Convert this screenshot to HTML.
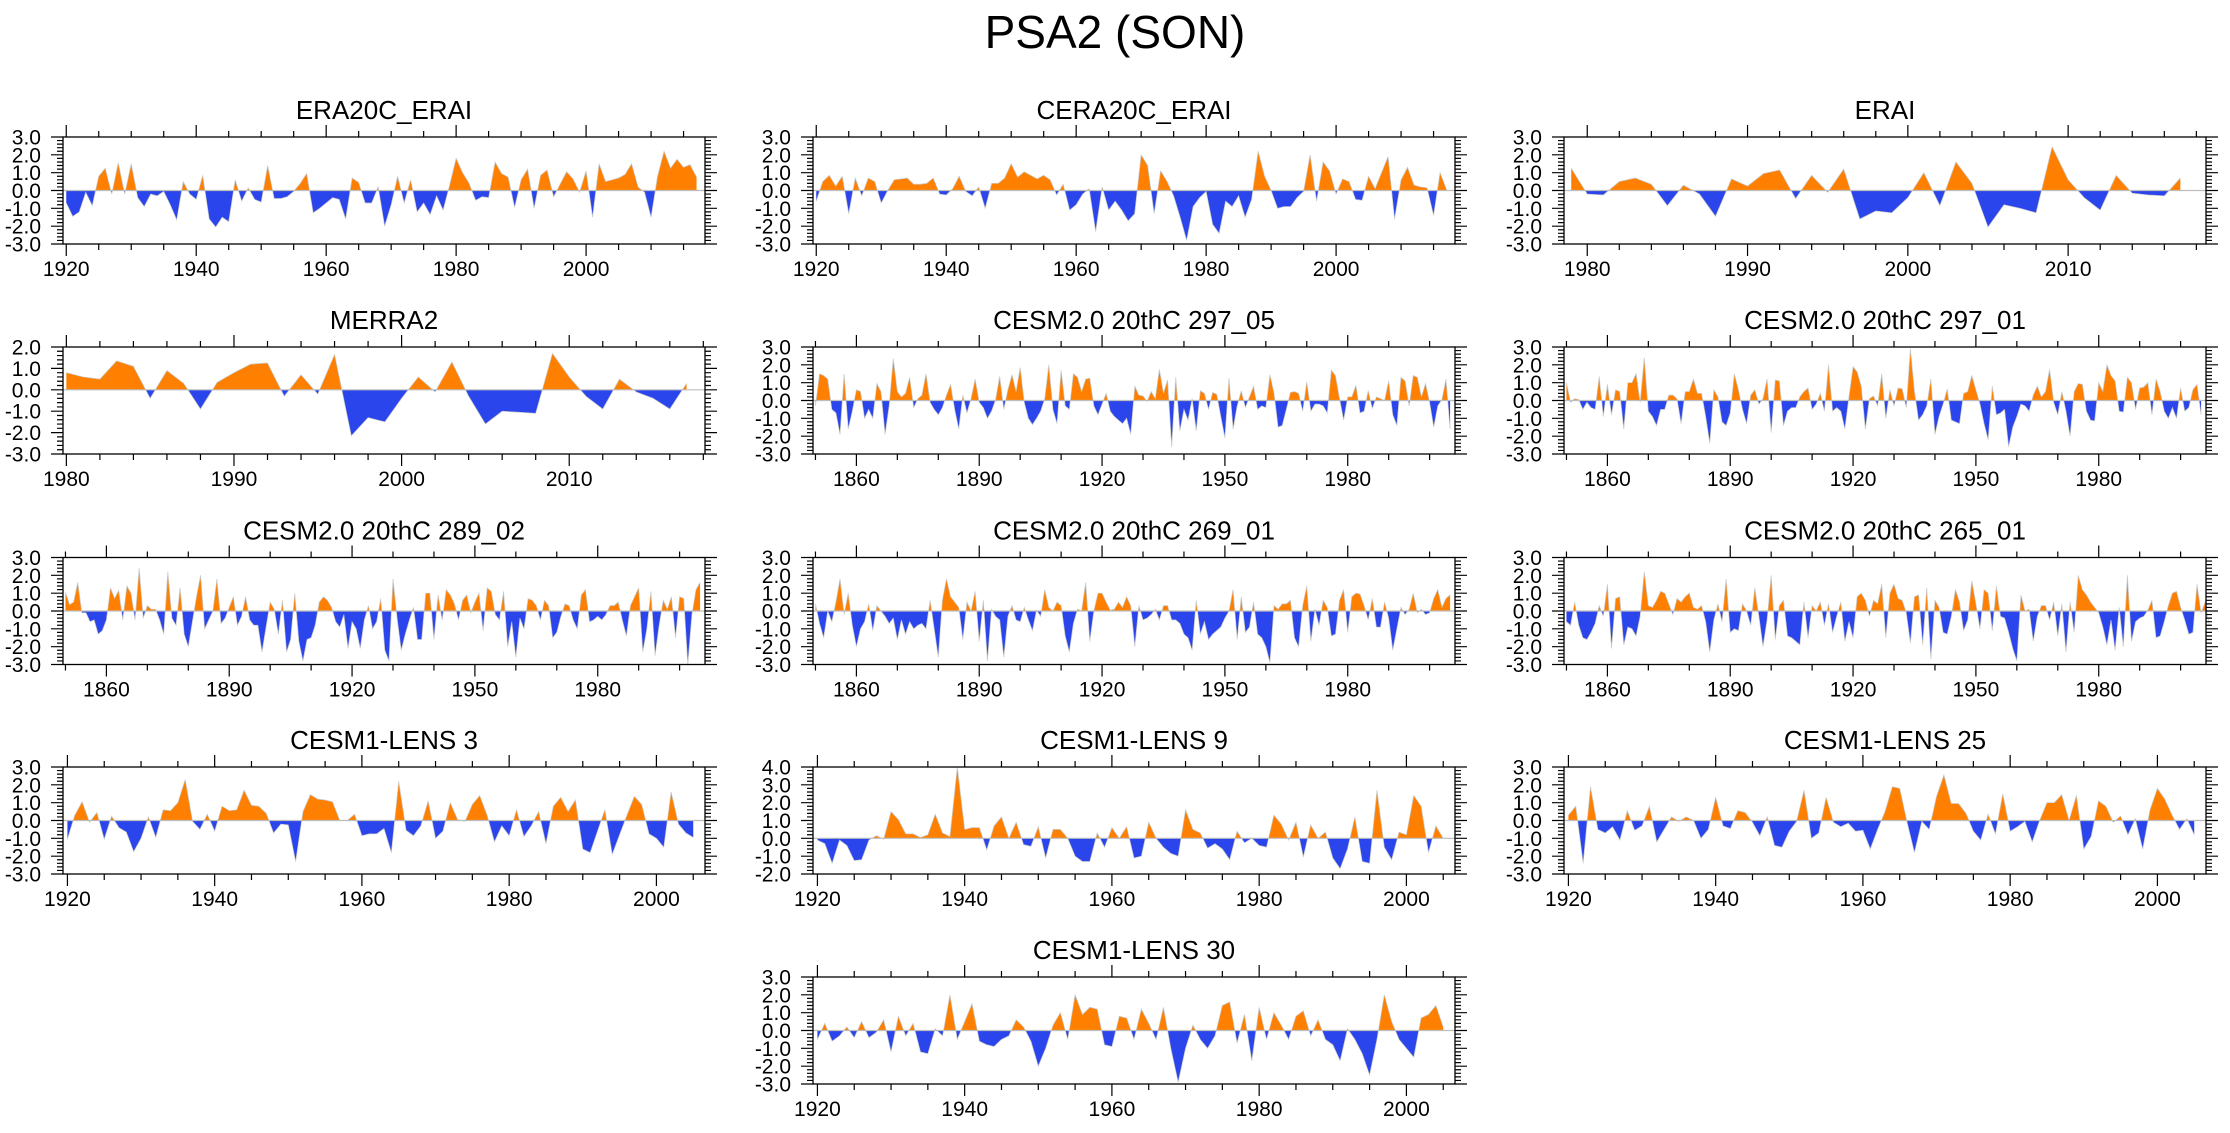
<!DOCTYPE html>
<html>
<head>
<meta charset="utf-8">
<style>
html,body{margin:0;padding:0;background:#fff;}
svg{display:block;font-family:"Liberation Sans",Arial,sans-serif;}
</style>
</head>
<body>
<svg id="fig" width="2230" height="1133" viewBox="0 0 2230 1133" xmlns="http://www.w3.org/2000/svg">
<rect x="0" y="0" width="2230" height="1133" fill="#fff"/>
<text x="1115" y="48" font-size="46" text-anchor="middle" fill="#000">PSA2 (SON)</text>
</svg>
<script>
// ---- data ----
const era20cStart = 1920;
const era20cValues = [-0.7,-1.45,-1.2,-0.1,-0.85,0.8,1.25,-0.2,1.55,-0.2,1.5,-0.4,-0.9,-0.2,-0.3,-0.05,-0.8,-1.65,0.5,-0.2,-0.5,0.85,-1.6,-2.05,-1.5,-1.75,0.6,-0.6,0.15,-0.5,-0.65,1.4,-0.45,-0.45,-0.35,-0.05,0.4,0.95,-1.25,-1.0,-0.7,-0.4,-0.5,-1.6,0.7,0.45,-0.7,-0.7,0.2,-2.0,-0.8,0.8,-0.7,0.6,-1.2,-0.7,-1.35,-0.3,-1.1,0.3,1.8,1.0,0.4,-0.55,-0.35,-0.4,1.6,0.95,0.75,-0.95,0.6,1.2,-1.0,0.85,1.15,-0.35,0.35,1.05,0.65,-0.1,1.1,-1.5,1.5,0.5,0.6,0.7,0.9,1.5,0.2,-0.1,-1.5,0.8,2.2,1.25,1.75,1.3,1.45,0.75];
const cera20cStart = 1920;
const cera20cValues = [-0.6,0.5,0.85,0.25,0.8,-1.3,0.7,-0.3,0.7,0.5,-0.7,0.0,0.6,0.65,0.7,0.35,0.35,0.4,0.7,-0.2,-0.25,0.1,0.8,-0.05,-0.3,0.2,-1.0,0.4,0.4,0.7,1.5,0.75,1.05,0.85,0.65,0.85,0.6,-0.25,0.35,-1.1,-0.8,-0.2,0.1,-2.3,0.2,-1.1,-0.6,-1.1,-1.7,-1.3,2.0,1.4,-1.3,1.1,0.5,-0.3,-1.5,-2.8,-0.9,-0.4,-0.05,-1.9,-2.4,-0.6,-0.9,-0.3,-1.5,-0.5,2.2,0.8,0.0,-1.0,-0.9,-0.9,-0.4,-0.05,2.0,-0.6,1.6,1.1,-0.2,0.65,0.5,-0.5,-0.55,0.8,0.1,1.0,1.9,-1.6,0.6,1.3,0.3,0.2,0.15,-1.4,1.0,0.05];
const eraiStart = 1979;
const eraiValues = [1.25,-0.2,-0.25,0.5,0.7,0.35,-0.85,0.3,-0.2,-1.45,0.65,0.25,0.95,1.15,-0.45,0.85,-0.1,1.2,-1.6,-1.15,-1.25,-0.4,1.0,-0.85,1.6,0.4,-2.05,-0.8,-1.0,-1.25,2.45,0.6,-0.4,-1.1,0.85,-0.15,-0.25,-0.3,0.7];
const merra2Start = 1980;
const merra2Values = [0.8,0.6,0.5,1.35,1.1,-0.4,0.9,0.3,-0.9,0.35,0.8,1.2,1.25,-0.3,0.7,-0.2,1.65,-2.15,-1.3,-1.5,-0.4,0.6,-0.1,1.3,-0.3,-1.6,-1.0,-1.05,-1.1,1.7,0.6,-0.3,-0.9,0.5,-0.1,-0.4,-0.9,0.3];
const cesm2Start = 1850;
const cesm297_05Values = [-0.3,1.5,1.4,1.2,-0.5,-0.7,-1.9,1.5,-1.6,-0.6,0.6,0.5,-1.0,-0.5,-1.0,0.95,0.5,-1.9,-0.3,2.35,0.5,0.2,0.4,1.3,-0.4,0.1,0.3,1.5,-0.1,-0.5,-0.8,-0.4,0.3,0.9,-0.5,-1.6,0.3,-0.7,0.1,1.2,-0.1,-0.4,-1.0,-0.6,0.05,1.35,-0.5,0.6,1.45,0.5,1.85,-0.1,-1.0,-1.35,-1.0,-0.6,0.1,2.0,-0.5,-1.3,1.7,-0.3,-0.5,1.5,1.3,0.5,1.2,1.25,-0.3,-0.8,-0.2,0.4,-0.6,-0.9,-1.1,-1.3,-1.0,-1.9,0.8,0.3,0.25,-0.05,0.5,0.1,1.75,0.4,1.15,-2.6,1.3,-1.7,-0.5,-1.1,0.1,-1.7,0.55,0.4,-0.5,0.45,0.35,-0.9,-2.1,1.25,-1.6,-0.3,0.55,-0.4,0.2,0.8,-0.5,-0.3,-0.4,1.45,0.4,-1.5,-1.4,-0.5,0.45,0.5,0.4,-0.6,1.05,-0.6,-0.2,-0.2,-0.3,-0.7,1.7,1.4,0.1,-1.1,0.2,0.2,0.85,-0.7,-0.6,0.55,-0.45,0.2,0.1,0.0,1.1,-0.8,-1.4,1.3,1.1,-0.3,1.4,1.3,0.2,0.95,-0.1,-1.5,-0.3,0.05,1.2,-1.6];
const cesm297_01Values = [1.0,-0.1,0.1,0.05,-0.5,-0.1,-0.4,-0.5,1.35,-0.9,0.9,-0.8,0.6,0.5,-1.6,1.0,1.0,1.5,-0.1,2.4,-0.6,-0.9,-1.4,-0.5,-0.5,0.3,0.3,0.1,-1.3,0.5,0.5,1.2,0.4,0.4,-0.9,-2.4,0.6,0.2,-1.2,-1.4,-0.7,1.5,0.6,-0.5,-1.3,0.3,0.6,-0.2,0.1,1.2,-1.8,1.15,1.1,-1.4,-0.6,-0.4,-0.4,0.2,0.5,0.7,-0.5,-0.2,0.4,-0.6,2.0,-0.6,-0.4,-0.6,-1.6,0.2,1.9,1.6,0.8,-1.6,0.1,0.25,-0.3,1.5,-1.0,0.6,-0.3,0.7,0.65,-0.4,2.9,0.5,-1.1,-0.8,-0.3,1.2,-1.9,-0.9,-0.2,0.65,-1.1,-1.2,-1.3,0.4,0.5,1.4,0.6,-0.2,-1.3,-2.2,0.8,-0.8,-0.7,-0.5,-2.6,-1.5,-0.9,-0.2,-0.3,-0.6,0.3,0.8,0.2,0.5,1.75,-0.1,-0.8,0.5,-0.6,-2.0,0.5,0.95,0.9,-0.6,-1.1,-1.15,1.0,0.5,2.0,1.4,1.1,-0.6,-0.65,1.3,1.0,-0.5,0.7,0.75,1.0,-0.8,1.2,0.5,-0.6,-1.0,-0.4,-1.0,0.7,-0.6,-0.4,0.6,0.9,-0.8];
const cesm289_02Values = [1.05,0.35,0.5,1.6,-0.1,-0.1,-0.6,-0.5,-1.3,-1.1,-0.5,1.3,0.7,1.15,-0.5,1.4,1.0,-0.5,2.4,-0.4,0.3,0.1,0.1,-0.5,-1.3,2.2,-0.4,-0.8,1.3,-1.3,-2.0,-0.6,0.8,2.0,-1.0,-0.5,0.0,1.8,-0.7,-0.4,0.2,0.8,-0.8,-0.3,0.8,-0.5,-0.8,-0.8,-2.3,-0.9,0.5,0.1,-1.3,0.6,-2.3,-1.6,1.0,-1.7,-2.8,-1.6,-1.5,-0.8,0.5,0.8,0.6,0.2,-0.6,-0.9,-0.2,-2.1,-0.6,-1.0,-2.1,-0.5,0.3,-1.0,-0.6,0.7,-2.2,-2.8,1.8,-0.4,-2.2,-1.3,-0.5,0.2,-1.6,-1.6,1.0,1.0,-1.6,0.9,-0.5,1.2,0.9,0.4,-0.5,0.6,0.9,-0.1,0.5,1.0,-1.1,1.3,1.1,-0.2,-0.5,1.1,-2.0,-0.6,-2.6,-0.4,-1.0,0.7,0.6,0.3,-0.5,0.6,0.3,-1.5,-1.2,-0.3,0.4,0.3,-0.5,-1.0,0.9,1.2,-0.6,-0.5,-0.3,-0.5,-0.2,0.3,0.3,0.5,-0.5,-1.4,0.3,0.8,1.3,-2.3,-1.0,1.1,-2.5,-0.8,0.6,0.1,0.8,-1.5,0.8,0.7,-3.0,-0.2,1.2,1.6];
const cesm269_01Values = [0.4,-0.7,-1.5,0.0,-0.6,0.5,1.8,-0.2,1.0,-0.8,-2.0,-1.0,-0.6,0.4,-1.1,0.3,0.0,-0.3,-0.7,-0.4,-1.6,-0.5,-1.3,-0.6,-1.0,-0.8,-0.7,-1.0,0.6,-1.0,-2.6,0.6,1.8,0.8,0.5,0.2,-1.6,0.5,0.0,1.1,-1.7,0.6,-2.8,0.1,-0.3,-0.5,-2.6,-0.3,0.3,-0.5,-0.6,0.2,-0.5,-1.1,0.05,-0.3,1.2,0.2,0.0,0.5,0.3,-1.4,-2.3,-0.7,0.1,0.0,1.6,-1.7,0.0,1.0,1.0,0.5,0.05,0.1,0.5,0.2,0.8,0.3,-2.0,0.3,-0.5,-0.4,-0.2,0.1,-0.5,0.3,0.3,-0.5,-0.5,-0.7,-1.3,-1.5,-2.2,0.6,-1.3,-0.6,-1.6,-1.3,-1.1,-0.9,-0.4,0.0,1.2,-1.6,0.8,-1.2,-0.9,0.5,-1.3,-1.5,-2.0,-2.9,0.3,0.1,0.4,0.4,0.6,-1.5,-2.0,0.3,1.4,-1.7,0.1,-0.8,0.6,0.2,-1.4,-1.3,0.6,1.2,-1.2,0.8,1.0,0.95,0.3,-0.5,0.7,-0.9,-0.9,0.5,-0.4,-2.2,-1.0,0.2,-0.2,0.1,1.0,-0.1,0.1,-0.2,-0.1,0.7,1.2,0.2,0.7,0.9];
const cesm265_01Values = [-0.6,-0.8,0.5,-0.8,-1.5,-1.6,-1.2,-0.7,0.3,-0.3,1.5,-2.1,0.7,0.8,-1.9,-0.9,-1.0,-1.4,-0.3,2.2,0.3,0.2,0.6,1.1,1.0,0.4,-0.2,0.7,0.5,0.8,1.0,0.2,0.1,0.3,-0.6,-2.3,-0.5,0.4,-0.6,1.8,-1.2,-1.0,-1.1,0.4,0.0,-0.8,1.3,-0.3,-2.0,-0.5,2.0,-1.6,0.3,0.6,-1.4,-1.5,-1.7,-1.9,0.5,-1.5,0.3,0.0,0.5,-0.8,0.4,-1.2,-0.3,0.5,-1.7,-0.6,-1.5,0.8,1.0,0.6,-0.3,0.6,0.4,1.5,-1.5,1.0,1.5,0.7,0.6,-0.1,-1.8,0.8,0.9,-1.9,1.3,-2.7,0.6,0.2,-1.2,-1.3,-0.3,1.2,0.5,-1.1,-0.5,1.7,0.4,-1.0,1.2,1.0,-1.1,1.4,-0.3,-0.4,-1.2,-2.1,-2.8,0.9,0.0,0.1,-1.7,-0.3,0.3,0.3,-0.5,0.5,-1.4,0.4,-2.3,0.5,-1.2,2.0,1.2,0.9,0.5,0.2,-0.1,-0.9,-1.9,-0.5,-2.2,0.2,-2.0,2.0,-1.7,-0.6,-0.4,-0.3,0.05,0.6,-1.5,-1.4,-0.6,0.3,1.0,1.1,0.2,-0.5,-1.3,-1.2,1.5,-0.1,0.5,-0.8];
const lensStart = 1920;
const lens3Values = [-1.05,0.3,1.05,-0.1,0.45,-1.05,0.25,-0.4,-0.65,-1.75,-1.0,0.2,-0.95,0.6,0.55,1.0,2.3,-0.05,-0.5,0.35,-0.6,0.8,0.55,0.6,1.7,0.85,0.8,0.4,-0.7,-0.2,-0.25,-2.3,0.5,1.45,1.2,1.15,1.05,0.0,0.0,0.35,-0.85,-0.75,-0.75,-0.45,-1.8,2.2,-0.55,-0.85,-0.3,1.1,-1.0,-0.6,1.0,0.05,-0.05,0.9,1.4,0.3,-1.2,-0.3,-0.85,0.6,-0.9,-0.3,0.5,-1.3,0.8,1.3,0.5,1.15,-1.6,-1.8,-0.6,0.6,-1.9,-0.8,0.3,1.35,0.9,-0.75,-1.0,-1.5,1.6,-0.2,-0.7,-0.95];
const lens9Values = [-0.1,-0.3,-1.4,-0.1,-0.4,-1.25,-1.2,-0.1,0.15,-0.05,1.5,1.05,0.25,0.25,0.05,0.2,1.35,0.3,0.1,4.0,0.5,0.6,0.6,-0.65,0.7,1.2,0.0,0.9,-0.35,-0.45,0.65,-1.1,0.5,0.5,0.0,-1.0,-1.3,-1.3,0.3,-0.5,0.6,0.0,0.65,-1.1,-1.0,0.9,0.0,-0.5,-0.85,-1.0,1.6,0.5,0.3,-0.55,-0.3,-0.6,-1.2,0.4,-0.25,0.0,-0.4,-0.5,1.3,0.8,-0.1,0.9,-1.05,0.75,0.0,0.35,-1.1,-1.7,-0.6,1.2,-1.3,-1.4,2.7,-0.5,-1.2,0.35,0.2,2.4,1.8,-0.8,0.7,0.0];
const lens25Values = [0.3,0.8,-2.4,1.9,-0.5,-0.7,-0.35,-1.1,0.55,-0.55,-0.3,0.8,-1.2,-0.5,0.2,-0.05,0.2,0.0,-1.0,-0.5,1.3,-0.3,-0.45,0.55,0.45,-0.1,-0.85,0.2,-1.4,-1.5,-0.6,-0.05,1.7,-1.0,-0.7,1.3,-0.1,-0.35,-0.15,-0.6,-0.55,-1.6,-0.5,0.5,1.9,1.8,-0.1,-1.8,-0.05,-0.5,1.35,2.55,0.95,0.95,0.4,-0.6,-1.1,0.35,-0.75,1.5,-0.6,-0.35,-0.05,-1.2,0.0,1.0,1.0,1.45,0.0,1.4,-1.6,-0.9,1.1,0.8,-0.1,0.25,-0.8,0.1,-1.6,0.6,1.8,1.2,0.3,-0.5,0.1,-0.8];
const lens30Values = [-0.5,0.4,-0.6,-0.3,0.2,-0.4,0.5,-0.4,-0.1,0.6,-1.2,0.8,-0.3,0.4,-1.2,-1.3,0.1,-0.3,2.0,-0.5,0.5,1.5,-0.6,-0.8,-0.9,-0.5,-0.3,0.6,0.2,-0.6,-2.0,-1.0,0.3,1.0,-0.5,2.0,0.9,1.3,1.2,-0.8,-0.9,0.8,0.7,-0.5,1.2,0.4,-0.5,1.3,-1.0,-2.9,-1.0,0.3,-0.5,-1.0,-0.3,1.4,1.6,-0.7,0.9,-1.7,1.3,-0.5,1.0,0.3,-0.5,0.8,1.1,-0.3,0.6,-0.5,-0.8,-1.7,0.1,-0.5,-1.3,-2.5,-0.5,2.0,0.5,-0.5,-1.0,-1.5,0.7,0.9,1.4,0.2];

// y tick labels
const yTicksStd = [3,2,1,0,-1,-2,-3];
const yTicksMerra = [2,1,0,-1,-2,-3];
const yTicksLens9 = [4,3,2,1,0,-1,-2];
// x tick labels
const xTicks20 = [1920,1940,1960,1980,2000];
const xTicks10 = [1980,1990,2000,2010];
const xTicks30 = [1860,1890,1920,1950,1980];

// ---- layout ----
const NS = "http://www.w3.org/2000/svg";
const svg = document.getElementById('fig');
const COLS = [63, 813, 1564];
const ROWS = [137, 347, 557.5, 767, 977];
const PW = 642, PH = 107;
const ORANGE = "#ff8000", BLUE = "#2a45ec";

function mk(tag, attrs, parent){
  const e = document.createElementNS(NS, tag);
  for (const k in attrs) e.setAttribute(k, attrs[k]);
  (parent||svg).appendChild(e);
  return e;
}
function fmt(v){ return v.toFixed(1); }

const panels = [
  {name:'era20c-erai', title:'ERA20C_ERAI', c:0, r:0, start:era20cStart, vals:era20cValues, x0:1919.5, x1:2018.3, y0:-3, y1:3, yt:yTicksStd, xt:xTicks20, minor:5},
  {name:'cera20c-erai', title:'CERA20C_ERAI', c:1, r:0, start:cera20cStart, vals:cera20cValues, x0:1919.5, x1:2018.3, y0:-3, y1:3, yt:yTicksStd, xt:xTicks20, minor:5},
  {name:'erai', title:'ERAI', c:2, r:0, start:eraiStart, vals:eraiValues, x0:1978.55, x1:2018.6, y0:-3, y1:3, yt:yTicksStd, xt:xTicks10, minor:2},
  {name:'merra2', title:'MERRA2', c:0, r:1, start:merra2Start, vals:merra2Values, x0:1979.8, x1:2018.1, y0:-3, y1:2, yt:yTicksMerra, xt:xTicks10, minor:2},
  {name:'cesm2-297-05', title:'CESM2.0 20thC 297_05', c:1, r:1, start:cesm2Start, vals:cesm297_05Values, x0:1849.4, x1:2006.2, y0:-3, y1:3, yt:yTicksStd, xt:xTicks30, minor:10},
  {name:'cesm2-297-01', title:'CESM2.0 20thC 297_01', c:2, r:1, start:cesm2Start, vals:cesm297_01Values, x0:1849.4, x1:2006.2, y0:-3, y1:3, yt:yTicksStd, xt:xTicks30, minor:10},
  {name:'cesm2-289-02', title:'CESM2.0 20thC 289_02', c:0, r:2, start:cesm2Start, vals:cesm289_02Values, x0:1849.4, x1:2006.2, y0:-3, y1:3, yt:yTicksStd, xt:xTicks30, minor:10},
  {name:'cesm2-269-01', title:'CESM2.0 20thC 269_01', c:1, r:2, start:cesm2Start, vals:cesm269_01Values, x0:1849.4, x1:2006.2, y0:-3, y1:3, yt:yTicksStd, xt:xTicks30, minor:10},
  {name:'cesm2-265-01', title:'CESM2.0 20thC 265_01', c:2, r:2, start:cesm2Start, vals:cesm265_01Values, x0:1849.4, x1:2006.2, y0:-3, y1:3, yt:yTicksStd, xt:xTicks30, minor:10},
  {name:'cesm1-lens-3', title:'CESM1-LENS 3', c:0, r:3, start:lensStart, vals:lens3Values, x0:1919.4, x1:2006.6, y0:-3, y1:3, yt:yTicksStd, xt:xTicks20, minor:5},
  {name:'cesm1-lens-9', title:'CESM1-LENS 9', c:1, r:3, start:lensStart, vals:lens9Values, x0:1919.4, x1:2006.6, y0:-2, y1:4, yt:yTicksLens9, xt:xTicks20, minor:5},
  {name:'cesm1-lens-25', title:'CESM1-LENS 25', c:2, r:3, start:lensStart, vals:lens25Values, x0:1919.4, x1:2006.6, y0:-3, y1:3, yt:yTicksStd, xt:xTicks20, minor:5},
  {name:'cesm1-lens-30', title:'CESM1-LENS 30', c:1, r:4, start:lensStart, vals:lens30Values, x0:1919.4, x1:2006.6, y0:-3, y1:3, yt:yTicksStd, xt:xTicks20, minor:5}
];

panels.forEach(function(p, idx){
  const L = COLS[p.c], T = ROWS[p.r], R = L + PW, B = T + PH;
  const xs = function(yr){ return L + (yr - p.x0) / (p.x1 - p.x0) * PW; };
  const ys = function(v){ return B - (v - p.y0) / (p.y1 - p.y0) * PH; };
  const g = mk('g', {});
  
  

  const title = mk('text', {x:(L+R)/2, y:T-18, 'font-size':26, 'text-anchor':'middle', fill:'#000'}, g);
  
  
  title.textContent = p.title;

  const z = ys(0);
  const cpPos = mk('clipPath', {id:'cp'+idx}, g);
  mk('rect', {x:L, y:T, width:PW, height:z-T}, cpPos);
  const cpNeg = mk('clipPath', {id:'cn'+idx}, g);
  mk('rect', {x:L, y:z, width:PW, height:B-z}, cpNeg);

  let pts = [];
  p.vals.forEach(function(v, i){ pts.push(xs(p.start + i).toFixed(2) + ',' + ys(v).toFixed(2)); });
  const lastX = xs(p.start + p.vals.length - 1), firstX = xs(p.start);
  const poly = pts.join(' ') + ' ' + lastX.toFixed(2) + ',' + z.toFixed(2) + ' ' + firstX.toFixed(2) + ',' + z.toFixed(2);
  const pos = mk('polygon', {points:poly, fill:ORANGE, 'fill-rule':'evenodd', 'clip-path':'url(#cp'+idx+')'}, g);
  
  
  const neg = mk('polygon', {points:poly, fill:BLUE, 'fill-rule':'evenodd', 'clip-path':'url(#cn'+idx+')'}, g);
  
  
  const line = mk('polyline', {points:pts.join(' '), fill:'none', stroke:'#c8c8c8', 'stroke-width':0.7}, g);
  
  
  const zl = mk('line', {x1:L, x2:R, y1:z, y2:z, stroke:'#bdbdbd', 'stroke-width':1.2}, g);
  
  

  const fr = mk('rect', {x:L, y:T, width:PW, height:PH, fill:'none', stroke:'#000', 'stroke-width':1.3}, g);
  
  

  let yd = '';
  for (let k = Math.round(p.y0*5); k <= Math.round(p.y1*5); k++) {
    const y = ys(k/5).toFixed(2);
    const len = (k % 5 === 0) ? 12 : 6;
    yd += 'M' + L + ' ' + y + 'h-' + len + 'M' + R + ' ' + y + 'h' + len;
  }
  const first = Math.ceil(p.x0 / p.minor) * p.minor;
  const majorStep = p.xt[1] - p.xt[0];
  for (let yr = first; yr <= p.x1; yr += p.minor) {
    const x = xs(yr).toFixed(2);
    const len = ((yr - p.xt[0]) % majorStep === 0) ? 12 : 6;
    yd += 'M' + x + ' ' + B + 'v' + len + 'M' + x + ' ' + T + 'v-' + len;
  }
  const tk = mk('path', {d:yd, stroke:'#000', 'stroke-width':1.2, fill:'none'}, g);
  
  

  p.yt.forEach(function(v){
    const t = mk('text', {x:L-22, y:ys(v)+7.5, 'font-size':21, 'text-anchor':'end', fill:'#000'}, g);
    
    
    t.textContent = fmt(v);
  });
  p.xt.forEach(function(yr){
    const t = mk('text', {x:xs(yr), y:B+32, 'font-size':21, 'text-anchor':'middle', fill:'#000'}, g);
    
    
    t.textContent = String(yr);
  });
});
</script>
</body>
</html>
